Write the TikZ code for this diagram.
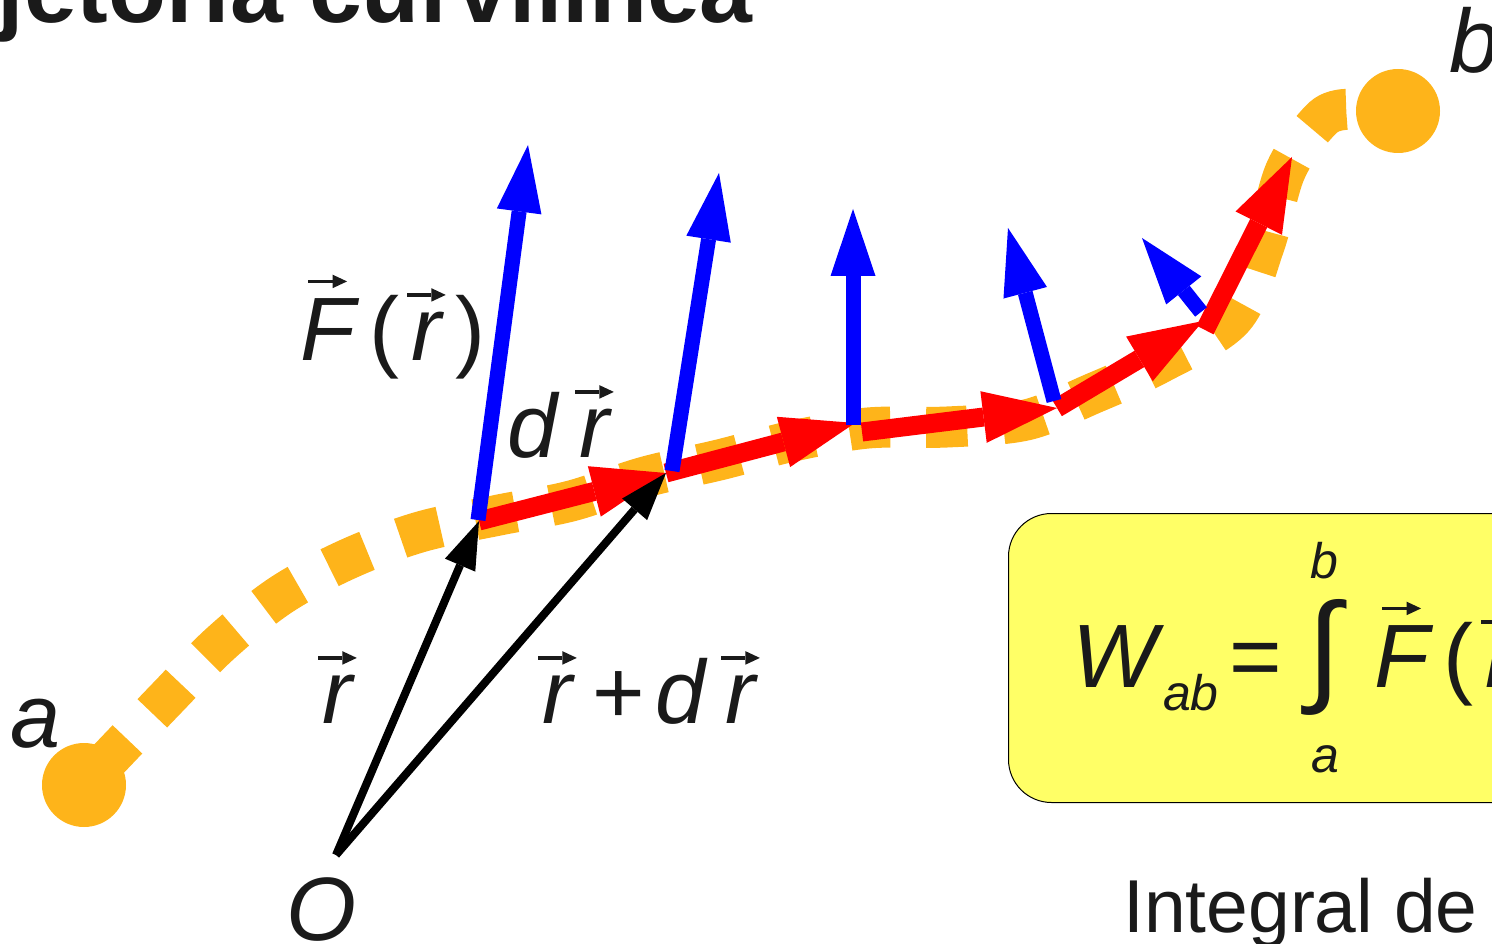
\documentclass[tikz,border=0pt]{standalone}
\usepackage{fontspec}
\setmainfont{Liberation Sans}
\usepackage{graphicx}
\usetikzlibrary{arrows.meta}
\definecolor{traj}{RGB}{254,180,26}
\definecolor{boxyellow}{RGB}{255,255,102}
\definecolor{txt}{RGB}{26,26,26}
\newcommand\varrow{\tikz[baseline=0pt]\draw[line width=0.042em,-{Triangle[length=0.16em,width=0.15em,line width=0pt]}] (0pt,0pt) -- (0.43em,0pt);}
\newcommand\va[1]{\leavevmode\vbox{\offinterlineskip\halign{\hfil##\hfil\cr\varrow\cr\noalign{\kern0.11em}#1\cr}}}
\begin{document}
\begin{tikzpicture}[x=1pt,y=-1pt,
  lab/.style={font=\fontsize{90}{90}\selectfont\itshape, inner sep=0pt, text=txt},
  redarrow/.style={draw=red, line width=19pt, -{Triangle[length=74pt,width=52pt,line width=0pt]}},
  bluearrow/.style={draw=blue, line width=15pt, -{Triangle[length=67pt,width=45pt,line width=0pt]}},
  blackarrow/.style={draw=black, line width=8pt, -{Triangle[length=48pt,width=33pt,line width=0pt]}},
  endpoint/.style={circle, fill=traj, minimum size=84pt, inner sep=0pt},
  trajline/.style={draw=traj, line width=41pt, dash pattern=on 41pt off 36pt, dash phase=55pt},
]
\path[use as bounding box, clip] (0,0) rectangle (1492,944);

% title
\node[font=\fontsize{95}{95}\selectfont\bfseries, anchor=base east, inner sep=0pt, text=txt] (title) at (753,23) {Trajetória curvilínea};

% trajectory
\node[endpoint] (a) at (84,785) {};
\node[endpoint] (b) at (1398,111) {};
\draw[trajline] plot[smooth, tension=0.55] coordinates {(a.center) (167,698) (221,643) (281,595) (348,559) (420,532) (499,515) (571,501) (645,477) (719,460) (793,441) (868,428) (947,427) (1026,420) (1094,393) (1160,363) (1233,318) (1264,246) (1285,172) (1315,126) (1340,110) (b.center)};

% points
\coordinate (O) at (336,855);
\coordinate (p0) at (479,521);
\coordinate (p1) at (666,473);
\coordinate (p2) at (855,423);
\coordinate (p2b) at (862,432);
\coordinate (p3) at (1057,408);
\coordinate (p4) at (1203,321);
\coordinate (p4b) at (1205,330);
\coordinate (p5) at (1292,157);
\coordinate (q0) at (478,520);
\coordinate (q1) at (672,471);
\coordinate (q2) at (853,425);
\coordinate (q3) at (1054,401);
\coordinate (q4) at (1201,312);
\coordinate (f1) at (528,145);
\coordinate (f2) at (719,173);
\coordinate (f3) at (853,209);
\coordinate (f4) at (1008,228);
\coordinate (f5) at (1142,238);

% displacement vectors
\draw[redarrow] (p0) -- (p1);
\draw[redarrow] (p1) -- (p2);
\draw[redarrow] (p2b) -- (p3);
\draw[redarrow] (p3) -- (p4);
\draw[redarrow] (p4b) -- (p5);

% force vectors
\draw[bluearrow] (q0) -- (f1);
\draw[bluearrow] (q1) -- (f2);
\draw[bluearrow] (q2) -- (f3);
\draw[bluearrow] (q3) -- (f4);
\draw[bluearrow] (q4) -- (f5);

% position vectors
\draw[blackarrow] (O) -- (p0);
\draw[blackarrow] (O) -- (p1);

% labels
\node[lab, anchor=base west] (la) at (10,747) {a};
\node[lab, anchor=base west] (lb) at (1449,73) {b};
\node[lab, anchor=base west] (lO) at (286,940) {O};
\node[lab, anchor=base west] (lr) at (316,723) {\va{r}};
\node[lab, anchor=base west] (lrdr) at (536,723) {\va{r}\kern14pt{\upshape +}\kern10pt d\kern14pt\va{r}};
\node[lab, anchor=base west] (ldr) at (507,457) {d\kern16pt\va{r}};
\node[lab, anchor=base west] (lF) at (300,360) {\va{F}\kern14pt{\upshape(}\kern6pt\va{r}\kern8pt{\upshape)}};

% formula box
\node[draw=black, line width=1pt, fill=boxyellow, rounded corners=43pt, minimum width=700pt, minimum height=289pt, anchor=north west, inner sep=0pt] (fbox) at (1008,513) {};
\node[lab, anchor=base west] (W) at (1072,687) {W\kern6pt\raisebox{-23pt}{\fontsize{50}{50}\selectfont ab}};
\node[font=\fontsize{90}{90}\selectfont, anchor=base west, inner sep=0pt, text=txt] (eq) at (1229,687) {=};
\node[inner sep=0pt, text=txt] (int) at (1324,657) {\resizebox*{!}{116pt}{∫}};
\node[font=\fontsize{50}{50}\selectfont\itshape, anchor=base, inner sep=0pt, text=txt] (ib) at (1324,578) {b};
\node[font=\fontsize{50}{50}\selectfont\itshape, anchor=base, inner sep=0pt, text=txt] (ia) at (1325,772) {a};
\node[lab, anchor=base west] (Fr) at (1374,687) {\va{F}\kern14pt{\upshape(}\kern6pt\va{r}\kern8pt{\upshape)}\kern8pt{\upshape·}\kern8pt d\kern14pt\va{r}};

% caption
\node[font=\fontsize{75}{75}\selectfont, anchor=base west, inner sep=0pt, text=txt] (cap) at (1123,932) {Integral de linha};
\end{tikzpicture}
\end{document}
